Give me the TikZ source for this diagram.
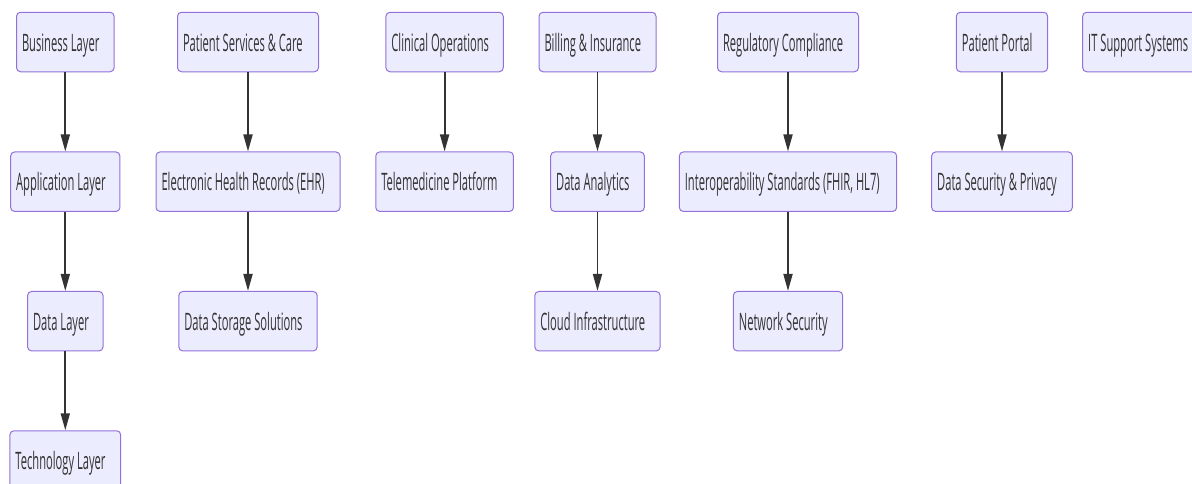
\documentclass[tikz,border=0pt]{standalone}
\usepackage{fontspec}
\usetikzlibrary{arrows.meta}
\newfontfamily\diafont[FakeStretch=0.465]{Open Sans}
\definecolor{boxfill}{HTML}{ECECFF}
\definecolor{boxstroke}{HTML}{9370DB}
\definecolor{linecol}{HTML}{333333}
\definecolor{textcol}{HTML}{333333}
\tikzset{
  box/.style={draw=boxstroke, fill=boxfill, rounded corners=4pt, line width=1pt,
    minimum height=59.5pt, align=left, inner xsep=5.5pt, inner ysep=0pt,
    text height=22pt, text depth=4pt,
    font=\diafont\fontsize{24}{28}\selectfont, text=textcol},
  arr/.style={draw=linecol, line width=1.8pt, -{Triangle[length=17pt,width=9pt]}}
}
\newcommand\bx[5]{\node[box, text width=#4pt-11pt] (#1) at (#2,#3) {\spaceskip=2.9pt\relax\mbox{#5}};}
\begin{document}
\begin{tikzpicture}[x=1pt,y=-1pt]
\useasboundingbox (0,0) rectangle (1192,483);
% column 1
\bx{bus}{65.3}{42}{97.6}{Business Layer}
\bx{app}{65.3}{181.7}{109.3}{Application Layer}
\bx{dat}{65.3}{321.2}{75.4}{Data Layer}
\bx{tec}{65.3}{460.5}{110.7}{Technology Layer}
% column 2
\bx{psc}{248}{42}{141}{Patient Services \& Care}
\bx{ehr}{248}{181.7}{184}{Electronic Health Records (EHR)}
\bx{dss}{248}{321.2}{138.3}{Data Storage Solutions}
% column 3
\bx{cli}{444.6}{42}{117.3}{Clinical Operations}
\bx{tel}{444.6}{181.7}{137.7}{Telemedicine Platform}
% column 4
\bx{bil}{597.5}{42}{117}{Billing \& Insurance}
\bx{ana}{597.5}{181.7}{93.7}{Data Analytics}
\bx{clo}{597.5}{321.2}{125.3}{Cloud Infrastructure}
% column 5
\bx{reg}{788}{42}{141}{Regulatory Compliance}
\bx{int}{788}{181.7}{217.3}{Interoperability Standards (FHIR, HL7)}
\bx{net}{788}{321.2}{109.3}{Network Security}
% column 6
\bx{por}{1002}{42}{91.3}{Patient Portal}
\bx{sec}{1002}{181.7}{140.7}{Data Security \& Privacy}
% column 7
\bx{its}{1143}{42}{120.6}{IT Support Systems}
% arrows
\draw[arr] (bus) -- (app);
\draw[arr] (app) -- (dat);
\draw[arr] (dat) -- (tec);
\draw[arr] (psc) -- (ehr);
\draw[arr] (ehr) -- (dss);
\draw[arr] (cli) -- (tel);
\draw[arr] (bil) -- (ana);
\draw[arr] (ana) -- (clo);
\draw[arr] (reg) -- (int);
\draw[arr] (int) -- (net);
\draw[arr] (por) -- (sec);
\end{tikzpicture}
\end{document}
